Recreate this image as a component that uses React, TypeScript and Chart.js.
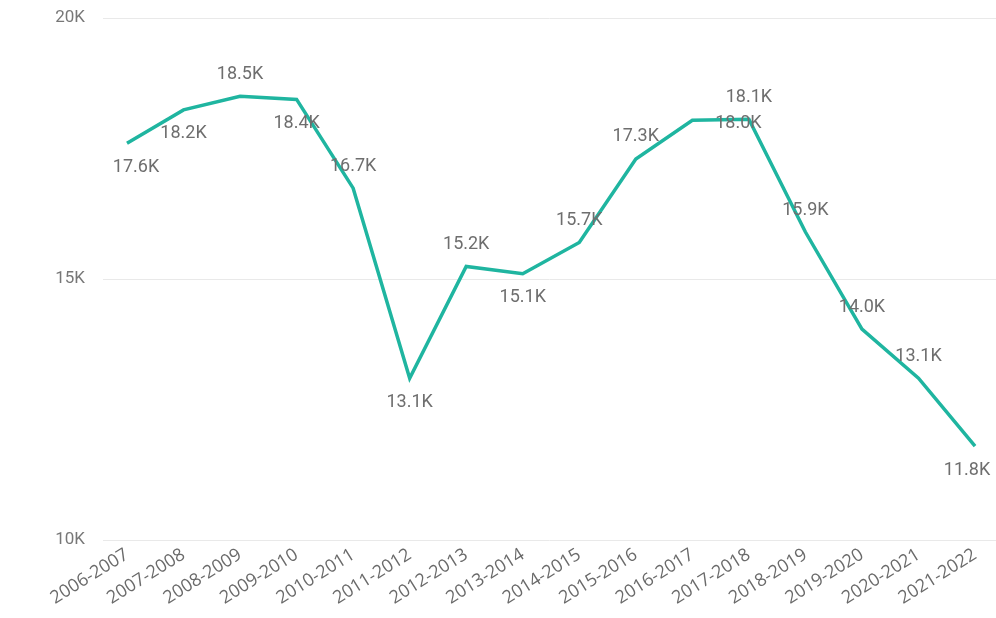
import React, { useEffect, useRef } from 'react';
import { Chart, registerables } from 'chart.js';

Chart.register(...registerables);

const categories = [
  '2006-2007', '2007-2008', '2008-2009', '2009-2010', '2010-2011', '2011-2012',
  '2012-2013', '2013-2014', '2014-2015', '2015-2016', '2016-2017', '2017-2018',
  '2018-2019', '2019-2020', '2020-2021', '2021-2022',
];

// values in thousands
const values = [
  17.6, 18.24, 18.5, 18.44, 16.74, 13.1, 15.24, 15.1, 15.7, 17.3, 18.04, 18.06,
  15.9, 14.04, 13.1, 11.8,
];

const yTicks = [10, 15, 20];

// label placement: 1 = below the point, -1 = above, 0 = beside
const labelSide = [1, 1, -1, 1, -1, 1, -1, 1, -1, -1, 0, -1, -1, -1, -1, 1];

export default function App() {
  const ref = useRef<HTMLCanvasElement | null>(null);

  useEffect(() => {
    if (!ref.current) return;
    const labelPlugin = {
      id: 'pointLabels',
      afterDatasetsDraw(chart: any) {
        const ctx = chart.ctx;
        const meta = chart.getDatasetMeta(0);
        const last = meta.data.length - 1;
        ctx.save();
        ctx.font = '18px Roboto';
        ctx.fillStyle = '#6e6e6e';
        ctx.textAlign = 'center';
        ctx.textBaseline = 'middle';
        meta.data.forEach((pt: any, i: number) => {
          const side = labelSide[i];
          let dx = 0;
          let dy = side === 1 ? 24 : -22;
          if (side === 0) {
            dx = 46;
            dy = 3;
          }
          if (i === 0) dx = 9;
          if (i === last) dx = -8;
          ctx.fillText(values[i].toFixed(1) + 'K', pt.x + dx, pt.y + dy);
        });
        ctx.restore();
      },
    };

    const chart = new Chart(ref.current, {
      type: 'line',
      data: {
        datasets: [
          {
            data: values.map((v, i) => ({ x: i, y: v })),
            borderColor: '#1fb5a0',
            borderWidth: 3.5,
            pointRadius: 0,
            tension: 0,
            fill: false,
          },
        ],
      },
      options: {
        animation: false,
        responsive: true,
        maintainAspectRatio: false,
        layout: { padding: { top: 18, right: 0, left: 0, bottom: 0 } },
        plugins: {
          legend: { display: false },
          tooltip: { enabled: false },
        },
        scales: {
          x: {
            type: 'linear',
            min: -0.4245,
            max: 15.371,
            afterBuildTicks: (scale: any) => {
              scale.ticks = categories.map((_, i) => ({ value: i }));
            },
            afterFit: (scale: any) => {
              scale.height = 78;
              scale.paddingTop = 0;
              scale.paddingBottom = 0;
              scale.paddingLeft = 0;
              scale.paddingRight = 0;
            },
            grid: { display: false, drawTicks: false },
            border: { display: false },
            ticks: {
              autoSkip: false,
              minRotation: 32,
              maxRotation: 32,
              padding: 4,
              color: '#6a6a6a',
              font: { family: 'Open Sans', size: 18 },
              callback: (v: any) => categories[v] ?? '',
            },
          },
          y: {
            min: 10,
            max: 20,
            afterBuildTicks: (scale: any) => {
              scale.ticks = yTicks.map((v) => ({ value: v }));
            },
            afterFit: (scale: any) => {
              scale.width = 103;
              scale.paddingTop = 0;
              scale.paddingBottom = 0;
            },
            grid: { color: '#e9e9e9', lineWidth: 1, drawTicks: false },
            border: { display: false },
            ticks: {
              padding: 18,
              color: '#777777',
              font: { family: 'Roboto', size: 17 },
              callback: (v: any) => v + 'K',
            },
          },
        },
      },
      plugins: [labelPlugin],
    });
    return () => chart.destroy();
  }, []);

  return (
    <div style={{ position: 'fixed', left: 0, top: 0, width: 996, height: 618, background: '#fff' }}>
      <canvas ref={ref} />
    </div>
  );
}
